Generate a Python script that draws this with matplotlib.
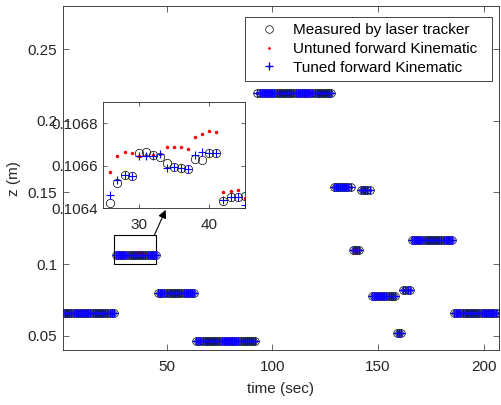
import numpy as np
import matplotlib
matplotlib.use('Agg')
import matplotlib.pyplot as plt
from matplotlib.patches import Rectangle

plt.rcParams['font.family'] = ['Liberation Sans', 'DejaVu Sans']
plt.rcParams['font.size'] = 11

AX_COL = '#262626'

# ---- hold segments of the trajectory: first / last sample (sec), height z (m)
seg_first = [1, 26, 46, 64, 93, 129, 138, 142, 147, 159, 162, 166, 186]
seg_last = [25, 45, 63, 92, 128, 137, 141, 146, 158, 161, 165, 185, 207]
seg_z = [0.0658, 0.1066, 0.0798, 0.0465, 0.2198, 0.1535, 0.1100,
         0.1514, 0.0774, 0.0519, 0.0821, 0.1165, 0.0658]

# ---- zoomed segment (26..45 sec)
zoom_time = [26, 27, 28, 29, 30, 31, 32, 33, 34, 35,
             36, 37, 38, 39, 40, 41, 42, 43, 44, 45]
zoom_measured = [0.106423, 0.106519, 0.106555, 0.106553, 0.106662,
                 0.106667, 0.106651, 0.106639, 0.106612, 0.106593,
                 0.106589, 0.106586, 0.106631, 0.106625, 0.106659,
                 0.106659, 0.106436, 0.106452, 0.106453, 0.106456]
zoom_untuned = [0.106571, 0.106646, 0.106664, 0.106658, 0.106648,
                0.106650, 0.106650, 0.106654, 0.106690, 0.106688,
                0.106688, 0.106679, 0.106733, 0.106751, 0.106765,
                0.106759, 0.106478, 0.106480, 0.106487, 0.106450]
zoom_tuned = [0.106464, 0.106534, 0.106555, 0.106553, 0.106648,
              0.106648, 0.106648, 0.106654, 0.106589, 0.106593,
              0.106589, 0.106586, 0.106651, 0.106667, 0.106659,
              0.106659, 0.106440, 0.106452, 0.106453, 0.106414]

zoom_box_z = [0.1000, 0.1205]

# build full series
time, measured, untuned, tuned = [], [], [], []
for first, last, z in zip(seg_first, seg_last, seg_z):
    if first == zoom_time[0]:
        time += zoom_time
        measured += zoom_measured
        untuned += zoom_untuned
        tuned += zoom_tuned
    else:
        tt = list(range(first, last + 1))
        time += tt
        measured += [z] * len(tt)
        untuned += [z] * len(tt)
        tuned += [z] * len(tt)


def draw_series(ax, t, m, u, k, ms=5.5, red_ms=2.0, plus_mew=1.0):
    ax.plot(t, m, 'o', mfc='none', mec='k', ms=ms, mew=0.5,
            label='Measured by laser tracker')
    ax.plot(t, u, 'o', color='r', ms=red_ms, mew=0,
            label='Untuned forward Kinematic')
    ax.plot(t, k, '+', color='b', mec='b', ms=6, mew=plus_mew,
            label='Tuned forward Kinematic')


def style_axes(ax, tick_len=4):
    for s in ax.spines.values():
        s.set_color(AX_COL)
        s.set_linewidth(0.6)
    ax.tick_params(direction='in', top=True, right=True, length=tick_len,
                   width=0.5, colors=AX_COL, labelsize=11)
    ax.tick_params(axis='x', pad=7)
    ax.tick_params(axis='y', pad=4)


fig = plt.figure(figsize=(5.01, 4.05), dpi=100)
ax = fig.add_axes([0.12575, 0.1358, 0.86926, 0.84864])
draw_series(ax, time, measured, untuned, tuned)
ax.set_xlim(1, 207)
ax.set_ylim(0.04, 0.28)
ax.set_xticks([50, 100, 150, 200])
ax.set_yticks([0.05, 0.1, 0.15, 0.2, 0.25])
ax.set_yticklabels(['0.05', '0.1', '0.15', '0.2', '0.25'])
style_axes(ax)
ax.set_xlabel('time (sec)', color=AX_COL, labelpad=6)
ax.set_ylabel('z (m)', color=AX_COL, labelpad=5)

leg = ax.legend(loc='upper left', bbox_to_anchor=(0.418, 0.5, 0.567, 0.468),
                mode='expand', borderaxespad=0, fancybox=False, framealpha=1,
                handlelength=2.34, handletextpad=0.4, labelspacing=0.3,
                borderpad=0.4, numpoints=1)
leg.get_frame().set_edgecolor(AX_COL)
leg.get_frame().set_linewidth(0.6)

# box round the zoomed segment
ax.add_patch(Rectangle((zoom_time[0] - 1, zoom_box_z[0]), zoom_time[-1] - zoom_time[0] + 1,
                       zoom_box_z[1] - zoom_box_z[0], fill=False, ec='k', lw=0.8))

# inset
ax_in = fig.add_axes([0.2062, 0.4857, 0.2822, 0.2625])
draw_series(ax_in, zoom_time, zoom_measured, zoom_untuned, zoom_tuned,
            ms=6, red_ms=2.5, plus_mew=0.8)
ax_in.set_xlim(25, 45)
ax_in.set_ylim(0.1064, 0.1069)
ax_in.set_xticks([30, 40])
ax_in.set_yticks([0.1064, 0.1066, 0.1068])
ax_in.set_yticklabels(['0.1064', '0.1066', '0.1068'])
style_axes(ax_in, tick_len=3)

arr = ax.annotate('', xy=(0.441, -0.015), xycoords=ax_in.transAxes,
                  xytext=(44.3, zoom_box_z[1]), textcoords='data',
                  arrowprops=dict(arrowstyle='-|>', color='k', lw=0.8,
                                  mutation_scale=12, shrinkA=0, shrinkB=0))
arr.set_zorder(10)

fig.savefig('out.png', dpi=100)
